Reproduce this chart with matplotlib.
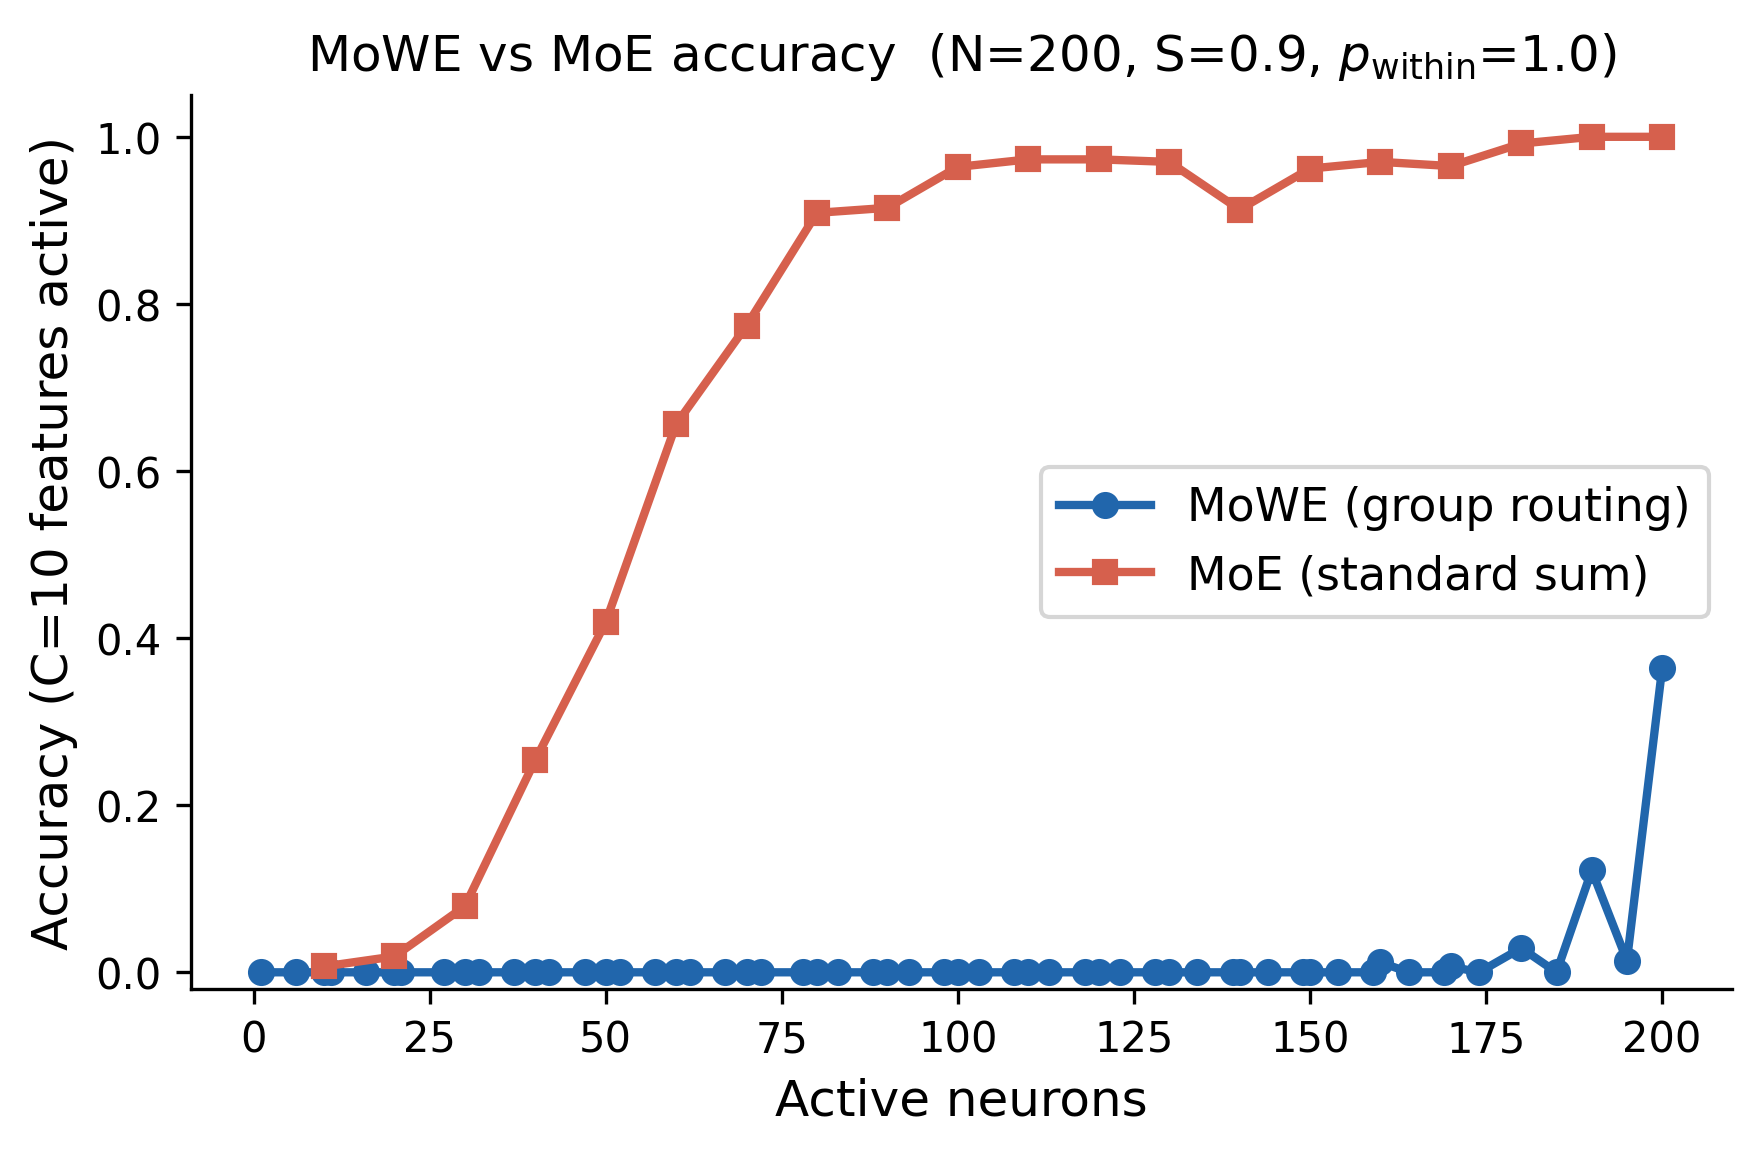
import matplotlib
matplotlib.use("Agg")
import matplotlib.pyplot as plt

# MoWE (group routing) — active neurons and accuracy
mowe_x = [1, 6, 10, 11, 16, 20, 21, 27, 30, 32, 37, 40, 42, 47, 50, 52, 57, 60, 62,
          67, 70, 72, 78, 80, 83, 88, 90, 93, 98, 100, 103, 108, 110, 113, 118, 120,
          123, 128, 130, 134, 139, 140, 144, 149, 150, 154, 159, 160, 164, 169, 170,
          174, 180, 185, 190, 195, 200]
_nonzero = {160: 0.012, 170: 0.007, 180: 0.029, 190: 0.122, 195: 0.014, 200: 0.364}
mowe_y = [_nonzero.get(x, 0.0) for x in mowe_x]

# MoE (standard sum)
moe_x = [10, 20, 30, 40, 50, 60, 70, 80, 90, 100, 110, 120, 130, 140, 150, 160, 170, 180, 190, 200]
moe_y = [0.007, 0.019, 0.079, 0.254, 0.419, 0.656, 0.774, 0.909, 0.915, 0.964,
         0.973, 0.973, 0.970, 0.913, 0.962, 0.970, 0.965, 0.992, 1.0, 1.0]

xticks = [0, 25, 50, 75, 100, 125, 150, 175, 200]
yticks = [0.0, 0.2, 0.4, 0.6, 0.8, 1.0]

fig = plt.figure(figsize=(5.88, 3.853), dpi=300)
ax = fig.add_axes([0.108, 0.1436, 0.874, 0.7734])

ax.plot(mowe_x, mowe_y, marker='o', color='#2166ac', lw=2, markersize=5.5,
        label='MoWE (group routing)')
ax.plot(moe_x, moe_y, marker='s', color='#d6604d', lw=2, markersize=5.5,
        label='MoE (standard sum)')

ax.set_ylim(-0.02, 1.05)
ax.set_xticks(xticks)
ax.set_yticks(yticks)
ax.tick_params(labelsize=10)
ax.set_xlabel('Active neurons', fontsize=12)
ax.set_ylabel('Accuracy (C=10 features active)', fontsize=12)
ax.set_title(r'MoWE vs MoE accuracy  (N=200, S=0.9, $p_{\mathrm{within}}$=1.0)', fontsize=12)
ax.spines['top'].set_visible(False)
ax.spines['right'].set_visible(False)
ax.legend(loc='center right', fontsize=11)

fig.savefig('out.png', dpi=300)
